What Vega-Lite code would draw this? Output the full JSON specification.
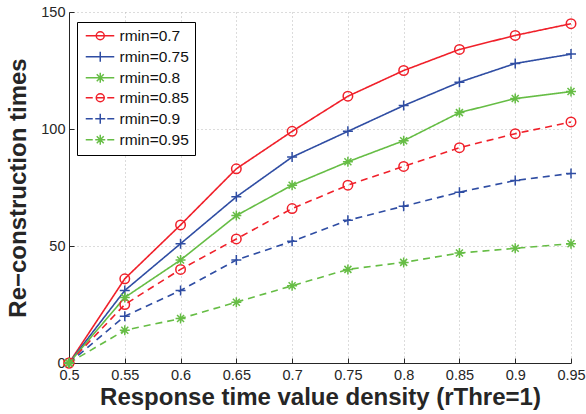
{
  "$schema": "https://vega.github.io/schema/vega-lite/v6.json",
  "width": 502,
  "height": 351,
  "autosize": {"type": "none"},
  "padding": {"left": 69, "top": 12, "right": 15, "bottom": 51},
  "background": "white",
  "config": {
    "view": {"stroke": null},
    "font": "Liberation Sans",
    "axis": {
      "domainColor": "#262626",
      "domainWidth": 1,
      "tickColor": "#262626",
      "tickSize": -5,
      "labelFont": "Liberation Sans",
      "labelFontSize": 14.5,
      "labelColor": "#262626",
      "labelFlush": false,
      "labelOverlap": false,
      "titleFont": "Liberation Sans",
      "titleFontSize": 24,
      "titleFontWeight": "bold",
      "titleColor": "#262626",
      "grid": true,
      "gridColor": "#b8b8b8",
      "gridDash": [1, 3],
      "gridWidth": 1
    }
  },
  "data": {
    "values": [
      {"x": 0.5, "y": 0, "series": "rmin=0.7"},
      {"x": 0.55, "y": 36, "series": "rmin=0.7"},
      {"x": 0.6, "y": 59, "series": "rmin=0.7"},
      {"x": 0.65, "y": 83, "series": "rmin=0.7"},
      {"x": 0.7, "y": 99, "series": "rmin=0.7"},
      {"x": 0.75, "y": 114, "series": "rmin=0.7"},
      {"x": 0.8, "y": 125, "series": "rmin=0.7"},
      {"x": 0.85, "y": 134, "series": "rmin=0.7"},
      {"x": 0.9, "y": 140, "series": "rmin=0.7"},
      {"x": 0.95, "y": 145, "series": "rmin=0.7"},
      {"x": 0.5, "y": 0, "series": "rmin=0.75"},
      {"x": 0.55, "y": 31, "series": "rmin=0.75"},
      {"x": 0.6, "y": 51, "series": "rmin=0.75"},
      {"x": 0.65, "y": 71, "series": "rmin=0.75"},
      {"x": 0.7, "y": 88, "series": "rmin=0.75"},
      {"x": 0.75, "y": 99, "series": "rmin=0.75"},
      {"x": 0.8, "y": 110, "series": "rmin=0.75"},
      {"x": 0.85, "y": 120, "series": "rmin=0.75"},
      {"x": 0.9, "y": 128, "series": "rmin=0.75"},
      {"x": 0.95, "y": 132, "series": "rmin=0.75"},
      {"x": 0.5, "y": 0, "series": "rmin=0.8"},
      {"x": 0.55, "y": 28, "series": "rmin=0.8"},
      {"x": 0.6, "y": 44, "series": "rmin=0.8"},
      {"x": 0.65, "y": 63, "series": "rmin=0.8"},
      {"x": 0.7, "y": 76, "series": "rmin=0.8"},
      {"x": 0.75, "y": 86, "series": "rmin=0.8"},
      {"x": 0.8, "y": 95, "series": "rmin=0.8"},
      {"x": 0.85, "y": 107, "series": "rmin=0.8"},
      {"x": 0.9, "y": 113, "series": "rmin=0.8"},
      {"x": 0.95, "y": 116, "series": "rmin=0.8"},
      {"x": 0.5, "y": 0, "series": "rmin=0.85"},
      {"x": 0.55, "y": 25, "series": "rmin=0.85"},
      {"x": 0.6, "y": 40, "series": "rmin=0.85"},
      {"x": 0.65, "y": 53, "series": "rmin=0.85"},
      {"x": 0.7, "y": 66, "series": "rmin=0.85"},
      {"x": 0.75, "y": 76, "series": "rmin=0.85"},
      {"x": 0.8, "y": 84, "series": "rmin=0.85"},
      {"x": 0.85, "y": 92, "series": "rmin=0.85"},
      {"x": 0.9, "y": 98, "series": "rmin=0.85"},
      {"x": 0.95, "y": 103, "series": "rmin=0.85"},
      {"x": 0.5, "y": 0, "series": "rmin=0.9"},
      {"x": 0.55, "y": 20, "series": "rmin=0.9"},
      {"x": 0.6, "y": 31, "series": "rmin=0.9"},
      {"x": 0.65, "y": 44, "series": "rmin=0.9"},
      {"x": 0.7, "y": 52, "series": "rmin=0.9"},
      {"x": 0.75, "y": 61, "series": "rmin=0.9"},
      {"x": 0.8, "y": 67, "series": "rmin=0.9"},
      {"x": 0.85, "y": 73, "series": "rmin=0.9"},
      {"x": 0.9, "y": 78, "series": "rmin=0.9"},
      {"x": 0.95, "y": 81, "series": "rmin=0.9"},
      {"x": 0.5, "y": 0, "series": "rmin=0.95"},
      {"x": 0.55, "y": 14, "series": "rmin=0.95"},
      {"x": 0.6, "y": 19, "series": "rmin=0.95"},
      {"x": 0.65, "y": 26, "series": "rmin=0.95"},
      {"x": 0.7, "y": 33, "series": "rmin=0.95"},
      {"x": 0.75, "y": 40, "series": "rmin=0.95"},
      {"x": 0.8, "y": 43, "series": "rmin=0.95"},
      {"x": 0.85, "y": 47, "series": "rmin=0.95"},
      {"x": 0.9, "y": 49, "series": "rmin=0.95"},
      {"x": 0.95, "y": 51, "series": "rmin=0.95"}
    ]
  },
  "encoding": {
    "x": {
      "field": "x",
      "type": "quantitative",
      "scale": {"domain": [0.5, 0.95], "nice": false, "zero": false},
      "axis": {
        "values": [0.5, 0.55, 0.6, 0.65, 0.7, 0.75, 0.8, 0.85, 0.9, 0.95],
        "format": "~g",
        "title": "Response time value density (rThre=1)",
        "labelPadding": 10,
        "titlePadding": 4
      }
    },
    "y": {
      "field": "y",
      "type": "quantitative",
      "scale": {"domain": [0, 150], "nice": false},
      "axis": {
        "values": [0, 50, 100, 150],
        "title": "Re−construction times",
        "labelPadding": 9,
        "titlePadding": 10
      }
    },
    "color": {
      "field": "series",
      "type": "nominal",
      "scale": {
        "domain": ["rmin=0.7", "rmin=0.75", "rmin=0.8", "rmin=0.85", "rmin=0.9", "rmin=0.95"],
        "range": ["#f0202a", "#2f4da3", "#66bd45", "#f0202a", "#2f4da3", "#66bd45"]
      },
      "legend": {
        "orient": "none",
        "legendX": 8,
        "legendY": 10,
        "title": null,
        "padding": 6,
        "strokeColor": "#000000",
        "fillColor": "#ffffff",
        "labelFont": "Liberation Sans",
        "labelFontSize": 15.5,
        "labelColor": "#111111",
        "labelOffset": 21,
        "symbolSize": 100,
        "symbolStrokeWidth": 1.5,
        "symbolOpacity": 1,
        "rowPadding": 3
      }
    }
  },
  "layer": [
    {
      "mark": {"type": "line", "strokeWidth": 1.6},
      "encoding": {
        "strokeDash": {
          "field": "series",
          "type": "nominal",
          "scale": {
            "domain": ["rmin=0.85", "rmin=0.9", "rmin=0.95", "rmin=0.7", "rmin=0.75", "rmin=0.8"],
            "range": [[7, 5], [7, 5], [7, 5], [1, 0], [1, 0], [1, 0]]
          },
          "legend": null
        }
      }
    },
    {
      "transform": [{"filter": {"field": "series", "oneOf": ["rmin=0.7", "rmin=0.85"]}}],
      "mark": {"type": "point", "shape": "circle", "filled": false, "size": 90, "strokeWidth": 1.5, "opacity": 1}
    },
    {
      "transform": [{"filter": {"field": "series", "oneOf": ["rmin=0.75", "rmin=0.9"]}}],
      "mark": {"type": "point", "shape": "M-1,0H1M0,-1V1", "filled": false, "size": 100, "strokeWidth": 1.5, "opacity": 1}
    },
    {
      "transform": [{"filter": {"field": "series", "oneOf": ["rmin=0.8", "rmin=0.95"]}}],
      "mark": {"type": "point", "shape": "M-1,0H1M0,-1V1M-0.7,-0.7L0.7,0.7M-0.7,0.7L0.7,-0.7", "filled": false, "size": 100, "strokeWidth": 1.5, "opacity": 1}
    },
    {
      "mark": {"type": "point", "filled": false, "size": 100, "strokeWidth": 1.5, "opacity": 0},
      "encoding": {
        "shape": {
          "field": "series",
          "type": "nominal",
          "scale": {
            "domain": ["rmin=0.7", "rmin=0.75", "rmin=0.8", "rmin=0.85", "rmin=0.9", "rmin=0.95"],
            "range": [
              "M-1,0H4.7M1.1,0A0.8,0.8,0,1,0,2.7,0A0.8,0.8,0,1,0,1.1,0",
              "M-1,0H4.7M1.9,-1V1",
              "M-1,0H4.7M1.9,-1V1M1.2,-0.7L2.6,0.7M1.2,0.7L2.6,-0.7",
              "M-1,0H0.4M1.1,0H2.7M3.3,0H4.7M1.1,0A0.8,0.8,0,1,0,2.7,0A0.8,0.8,0,1,0,1.1,0",
              "M-1,0H0.4M0.9,0H2.9M3.3,0H4.7M1.9,-1V1",
              "M-1,0H0.4M0.9,0H2.9M3.3,0H4.7M1.9,-1V1M1.2,-0.7L2.6,0.7M1.2,0.7L2.6,-0.7"
            ]
          },
          "legend": {
            "orient": "none",
            "legendX": 8,
            "legendY": 10,
            "title": null
          }
        }
      }
    }
  ]
}
